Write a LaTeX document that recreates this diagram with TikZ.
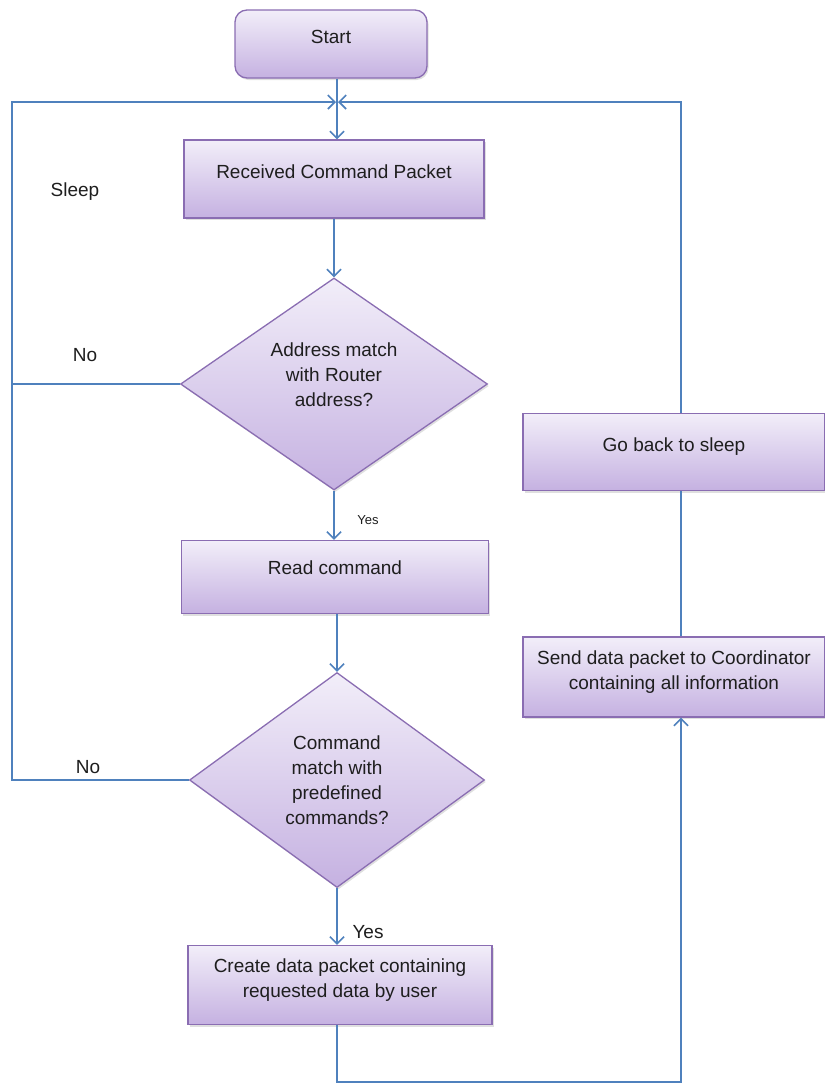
\documentclass[tikz,border=0pt]{standalone}
\usepackage{fontspec}
\setmainfont{Liberation Sans}
\usetikzlibrary{shapes.geometric,arrows.meta,shadows}
\definecolor{flowline}{HTML}{4F81BD}
\definecolor{boxedge}{HTML}{8A6DB2}
\definecolor{boxtop}{HTML}{F2EEF9}
\definecolor{boxbottom}{HTML}{C5B1E1}
\definecolor{ink}{HTML}{1E1E1E}
% text block raised a little above the shape centre, keeping its natural size
\newcommand{\liftup}[2][7pt]{\raisebox{#1}[\height][\depth]{\begin{tabular}{@{}c@{}}#2\end{tabular}}}
\begin{document}
\begin{tikzpicture}[x=1pt,y=-1pt,
  flowbox/.style={draw=boxedge, line width=1.3pt, top color=boxtop, bottom color=boxbottom,
    drop shadow={opacity=0.25, shadow xshift=1.5pt, shadow yshift=-2pt},
    text=ink, font=\fontsize{19}{25}\selectfont, inner sep=0pt},
  decision/.style={flowbox, diamond, shape aspect=1.45},
  wire/.style={draw=flowline, line width=1.8pt},
  arrowwire/.style={wire, -{Straight Barb[length=7pt,width=14pt,line width=1.6pt]}},
  tag/.style={text=ink, font=\fontsize{19}{25}\selectfont, inner sep=0pt}]
\useasboundingbox (0,0) rectangle (825,1085);

% process steps
\node[flowbox, rounded corners=12pt, minimum width=192pt, minimum height=68pt] (start) at (331,44) {\liftup[6pt]{Start}};
\node[flowbox, minimum width=300pt, minimum height=78pt] (recv) at (334,179) {\liftup[6pt]{Received Command Packet}};
\node[decision, minimum width=307pt, minimum height=212pt] (addr) at (334,384) {\liftup[8pt]{Address match\\with Router\\address?}};
\node[flowbox, minimum width=307pt, minimum height=73pt] (read) at (335,577) {\liftup[8pt]{Read command}};
\node[decision, minimum width=295pt, minimum height=215pt] (cmd) at (337,780) {\liftup[-2pt]{Command\\match with\\predefined\\commands?}};
\node[flowbox, minimum width=304pt, minimum height=79pt] (create) at (340,985) {\liftup[5pt]{Create data packet containing\\requested data by user}};
\node[flowbox, minimum width=302pt, minimum height=77pt] (goback) at (674,452) {\liftup[6pt]{Go back to sleep}};
\node[flowbox, minimum width=302pt, minimum height=80pt] (send) at (674,677) {\liftup[5pt]{Send data packet to Coordinator\\containing all information}};

% routing points
\coordinate (join) at (337,102);
\coordinate (leftbus) at (12,102);
\coordinate (rightbus) at (681,102);
\coordinate (bottombus) at (681,1082);

% main column
\draw[arrowwire] (start.south -| join) -- (recv.north -| join);
\draw[arrowwire] (recv.south -| addr.north) -- (addr.north);
\draw[arrowwire] (addr.south) -- (read.north -| addr.south);
\draw[arrowwire] (read.south -| cmd.north) -- (cmd.north);
\draw[arrowwire] (cmd.south) -- (create.north -| cmd.south);

% "No" branches back to the top
\draw[arrowwire] (addr.west) -| (leftbus) -- ([xshift=-1pt]join);
\draw[wire] (cmd.west) -| (addr.west -| leftbus);

% data path up the right side
\draw[arrowwire] (create.south -| cmd.south) |- (bottombus) -- (send.south -| bottombus);
\draw[wire] (send.north -| bottombus) -- (goback.south -| bottombus);
\draw[arrowwire] (goback.north -| rightbus) -- (rightbus) -- ([xshift=1pt]join);

% labels
\node[tag] (sleep) at (75,192) {Sleep};
\node[tag] (no1) at (85,355) {No};
\node[tag] (no2) at (88,767) {No};
\node[tag, font=\fontsize{13}{15}\selectfont] (yes1) at (368,520) {Yes};
\node[tag] (yes2) at (368,932) {Yes};
\end{tikzpicture}
\end{document}
